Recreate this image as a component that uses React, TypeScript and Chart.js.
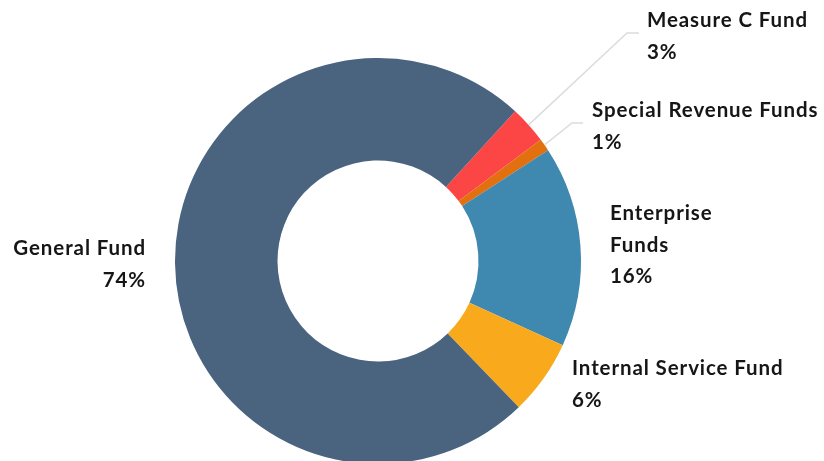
import React, { useEffect, useRef } from "react";
import { Chart, registerables } from "chart.js";

Chart.register(...registerables);

const categories = ["Measure C Fund", "Special Revenue Funds", "Enterprise Funds", "Internal Service Fund", "General Fund"];
const values = [3, 1, 16, 6, 74];
const valueLabels = ["3%", "1%", "16%", "6%", "74%"];
const colors = ["#fc4545", "#e2700f", "#3f88b0", "#f9aa1c", "#4a637f"];
const labelLines = [
  ["Measure C Fund"],
  ["Special Revenue Funds"],
  ["Enterprise", "Funds"],
  ["Internal Service Fund"],
  ["General Fund"],
];

// label layout (x anchor, first baseline, alignment, leader elbow)
const labelLayout = [
  { x: 647, y: 27, align: "left", elbow: [627, 33], end: [639, 33] },
  { x: 592, y: 117, align: "left", elbow: [572, 123], end: [583, 123] },
  { x: 610, y: 220, align: "left", elbow: null, end: null },
  { x: 572, y: 375, align: "left", elbow: null, end: null },
  { x: 146, y: 255, align: "right", elbow: null, end: null },
];

const FONT = "bold 20.5px Lato";
const LINE_H = 31.5;

const labelPlugin = {
  id: "fundLabels",
  afterDatasetsDraw(chart: any) {
    const ctx = chart.ctx;
    const meta = chart.getDatasetMeta(0);
    ctx.save();
    meta.data.forEach((arc: any, i: number) => {
      const lay = labelLayout[i];
      if (lay.elbow) {
        const p = arc.getProps(["x", "y", "startAngle", "endAngle", "outerRadius"], true);
        const mid = (p.startAngle + p.endAngle) / 2;
        const sx = p.x + Math.cos(mid) * p.outerRadius;
        const sy = p.y + Math.sin(mid) * p.outerRadius;
        ctx.beginPath();
        ctx.strokeStyle = "#dcdcdc";
        ctx.lineWidth = 1.5;
        ctx.moveTo(sx, sy);
        ctx.lineTo(lay.elbow[0], lay.elbow[1]);
        ctx.lineTo(lay.end[0], lay.end[1]);
        ctx.stroke();
      }
      ctx.fillStyle = "#161616";
      ctx.font = FONT;
      (ctx as any).letterSpacing = "0.9px";
      ctx.textAlign = lay.align;
      ctx.textBaseline = "alphabetic";
      const lines = [...labelLines[i], valueLabels[i]];
      lines.forEach((t, k) => ctx.fillText(t, lay.x, lay.y + k * LINE_H));
    });
    ctx.restore();
  },
};

export default function App() {
  const ref = useRef<HTMLCanvasElement>(null);
  useEffect(() => {
    document.body.style.margin = "0";
    const chart = new Chart(ref.current!, {
      type: "doughnut",
      data: {
        labels: categories,
        datasets: [
          {
            data: values,
            backgroundColor: colors,
            borderWidth: 0,
          },
        ],
      },
      options: {
        animation: false,
        responsive: false,
        rotation: 42.5,
        cutout: "49.5%",
        layout: { padding: { top: 58, bottom: 6, left: 175, right: 243 } },
        plugins: {
          legend: { display: false },
          tooltip: { enabled: false },
        },
      },
      plugins: [labelPlugin],
    });
    return () => chart.destroy();
  }, []);
  return (
    <div style={{ width: 824, height: 461, overflow: "hidden", background: "#fff" }}>
      <canvas ref={ref} width={824} height={470} style={{ display: "block" }} />
    </div>
  );
}
